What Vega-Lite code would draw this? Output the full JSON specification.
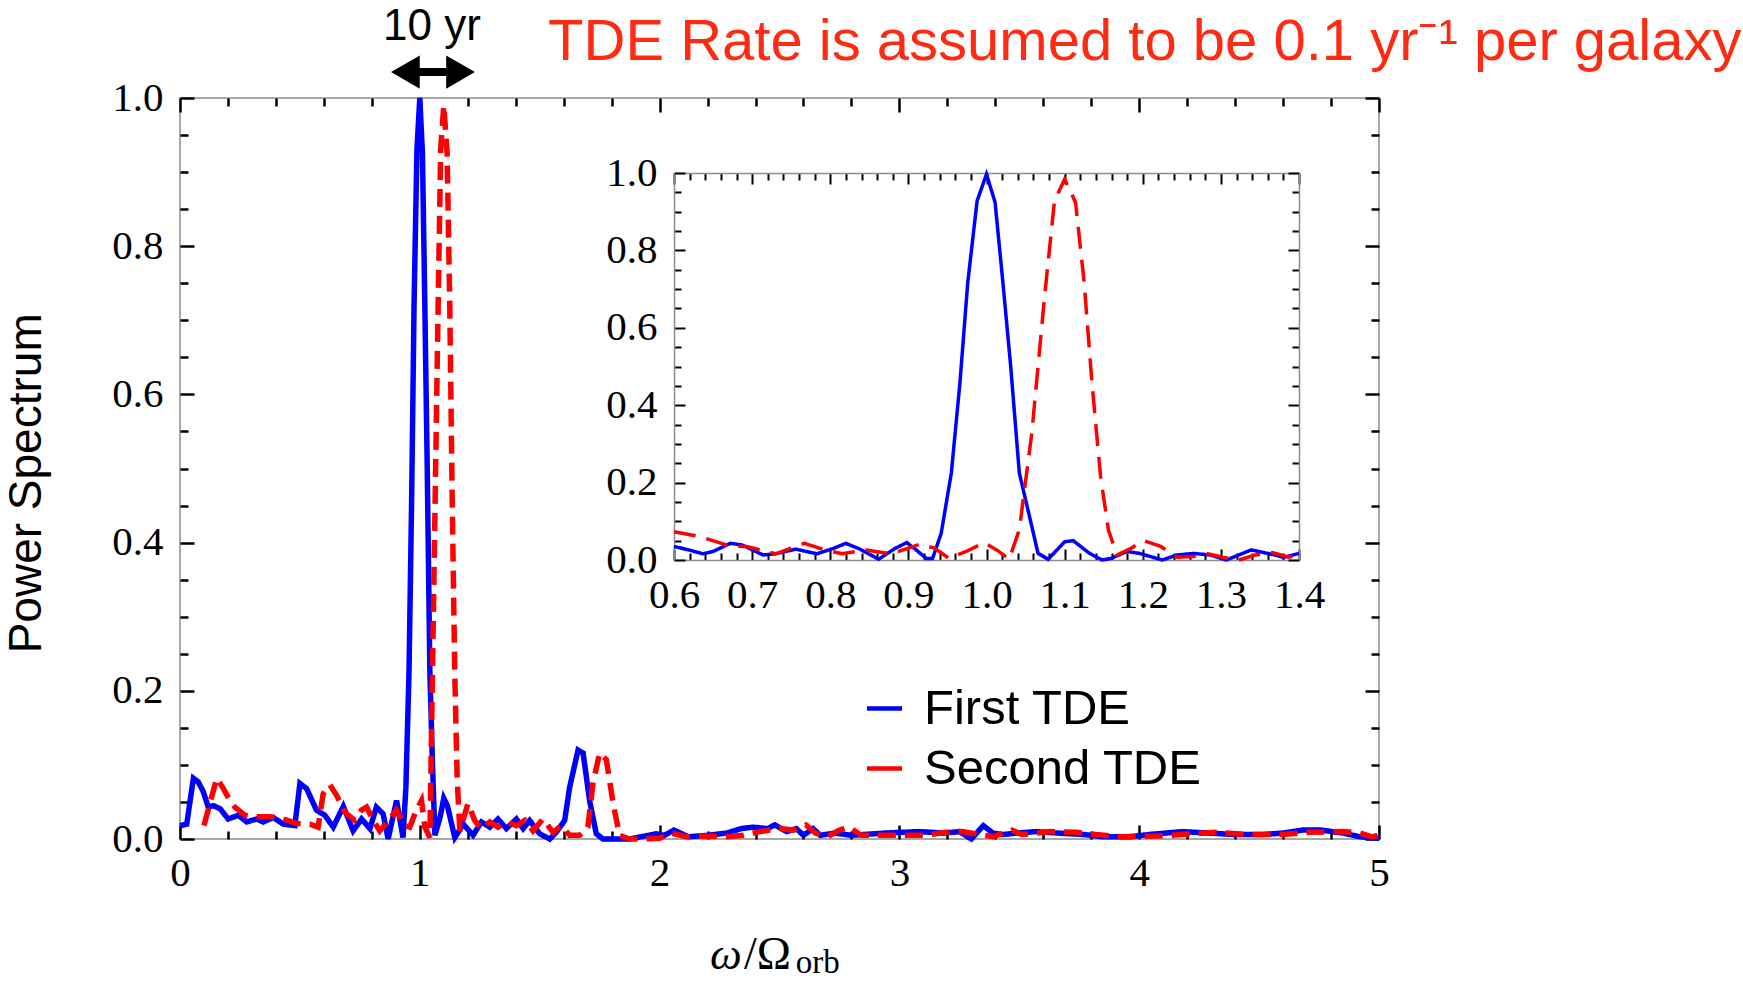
{
  "$schema": "https://vega.github.io/schema/vega-lite/v6.json",
  "autosize": "none",
  "padding": {"left": 180, "top": 98, "right": 364, "bottom": 142},
  "width": 1199,
  "height": 741,
  "background": "white",
  "config": {
    "view": {"stroke": "#8c8c8c", "strokeWidth": 1.5},
    "axis": {"grid": false, "domain": false, "tickColor": "black", "tickWidth": 2.5, "labelFont": "Liberation Serif", "labelColor": "black", "labelFontSize": 41, "labelFlush": false, "labelOverlap": false, "title": null}
  },
  "datasets": {
    "main": [
      {"series": "First TDE", "omega": 0.0, "power": 0.018},
      {"series": "First TDE", "omega": 0.028, "power": 0.02},
      {"series": "First TDE", "omega": 0.056, "power": 0.082},
      {"series": "First TDE", "omega": 0.076, "power": 0.077},
      {"series": "First TDE", "omega": 0.097, "power": 0.064},
      {"series": "First TDE", "omega": 0.118, "power": 0.043},
      {"series": "First TDE", "omega": 0.139, "power": 0.045},
      {"series": "First TDE", "omega": 0.167, "power": 0.041},
      {"series": "First TDE", "omega": 0.201, "power": 0.027},
      {"series": "First TDE", "omega": 0.243, "power": 0.032},
      {"series": "First TDE", "omega": 0.278, "power": 0.023},
      {"series": "First TDE", "omega": 0.319, "power": 0.027},
      {"series": "First TDE", "omega": 0.347, "power": 0.023},
      {"series": "First TDE", "omega": 0.389, "power": 0.029},
      {"series": "First TDE", "omega": 0.431, "power": 0.02},
      {"series": "First TDE", "omega": 0.479, "power": 0.018},
      {"series": "First TDE", "omega": 0.5, "power": 0.075},
      {"series": "First TDE", "omega": 0.528, "power": 0.068},
      {"series": "First TDE", "omega": 0.569, "power": 0.039},
      {"series": "First TDE", "omega": 0.604, "power": 0.032},
      {"series": "First TDE", "omega": 0.639, "power": 0.016},
      {"series": "First TDE", "omega": 0.681, "power": 0.044},
      {"series": "First TDE", "omega": 0.722, "power": 0.011},
      {"series": "First TDE", "omega": 0.757, "power": 0.027},
      {"series": "First TDE", "omega": 0.792, "power": 0.014},
      {"series": "First TDE", "omega": 0.819, "power": 0.043},
      {"series": "First TDE", "omega": 0.847, "power": 0.034},
      {"series": "First TDE", "omega": 0.868, "power": 0.0},
      {"series": "First TDE", "omega": 0.903, "power": 0.052},
      {"series": "First TDE", "omega": 0.93, "power": 0.002},
      {"series": "First TDE", "omega": 0.942, "power": 0.07},
      {"series": "First TDE", "omega": 0.955, "power": 0.225},
      {"series": "First TDE", "omega": 0.966, "power": 0.46},
      {"series": "First TDE", "omega": 0.976, "power": 0.72},
      {"series": "First TDE", "omega": 0.988, "power": 0.93},
      {"series": "First TDE", "omega": 1.0, "power": 1.0},
      {"series": "First TDE", "omega": 1.011, "power": 0.925},
      {"series": "First TDE", "omega": 1.021, "power": 0.72},
      {"series": "First TDE", "omega": 1.031, "power": 0.5},
      {"series": "First TDE", "omega": 1.042, "power": 0.225},
      {"series": "First TDE", "omega": 1.053, "power": 0.1},
      {"series": "First TDE", "omega": 1.063, "power": 0.005},
      {"series": "First TDE", "omega": 1.085, "power": 0.03},
      {"series": "First TDE", "omega": 1.1, "power": 0.055},
      {"series": "First TDE", "omega": 1.115, "power": 0.045},
      {"series": "First TDE", "omega": 1.146, "power": 0.002},
      {"series": "First TDE", "omega": 1.181, "power": 0.02},
      {"series": "First TDE", "omega": 1.222, "power": 0.005},
      {"series": "First TDE", "omega": 1.257, "power": 0.023},
      {"series": "First TDE", "omega": 1.292, "power": 0.016},
      {"series": "First TDE", "omega": 1.326, "power": 0.027},
      {"series": "First TDE", "omega": 1.361, "power": 0.014},
      {"series": "First TDE", "omega": 1.403, "power": 0.027},
      {"series": "First TDE", "omega": 1.431, "power": 0.014},
      {"series": "First TDE", "omega": 1.458, "power": 0.025},
      {"series": "First TDE", "omega": 1.5, "power": 0.007},
      {"series": "First TDE", "omega": 1.542, "power": 0.0},
      {"series": "First TDE", "omega": 1.569, "power": 0.009},
      {"series": "First TDE", "omega": 1.604, "power": 0.025},
      {"series": "First TDE", "omega": 1.625, "power": 0.07},
      {"series": "First TDE", "omega": 1.66, "power": 0.12},
      {"series": "First TDE", "omega": 1.681, "power": 0.116},
      {"series": "First TDE", "omega": 1.708, "power": 0.052},
      {"series": "First TDE", "omega": 1.736, "power": 0.007},
      {"series": "First TDE", "omega": 1.764, "power": 0.0},
      {"series": "First TDE", "omega": 1.875, "power": 0.0},
      {"series": "First TDE", "omega": 1.986, "power": 0.007},
      {"series": "First TDE", "omega": 2.02, "power": 0.005},
      {"series": "First TDE", "omega": 2.06, "power": 0.012},
      {"series": "First TDE", "omega": 2.12, "power": 0.003},
      {"series": "First TDE", "omega": 2.2, "power": 0.005},
      {"series": "First TDE", "omega": 2.28, "power": 0.008},
      {"series": "First TDE", "omega": 2.34, "power": 0.014},
      {"series": "First TDE", "omega": 2.39, "power": 0.016},
      {"series": "First TDE", "omega": 2.45, "power": 0.014},
      {"series": "First TDE", "omega": 2.48, "power": 0.019},
      {"series": "First TDE", "omega": 2.53, "power": 0.01},
      {"series": "First TDE", "omega": 2.57, "power": 0.014},
      {"series": "First TDE", "omega": 2.6, "power": 0.005},
      {"series": "First TDE", "omega": 2.64, "power": 0.014},
      {"series": "First TDE", "omega": 2.67, "power": 0.005},
      {"series": "First TDE", "omega": 2.73, "power": 0.008},
      {"series": "First TDE", "omega": 2.8, "power": 0.005},
      {"series": "First TDE", "omega": 2.94, "power": 0.008},
      {"series": "First TDE", "omega": 3.08, "power": 0.01},
      {"series": "First TDE", "omega": 3.19, "power": 0.008},
      {"series": "First TDE", "omega": 3.25, "power": 0.01},
      {"series": "First TDE", "omega": 3.3, "power": 0.0},
      {"series": "First TDE", "omega": 3.35, "power": 0.018},
      {"series": "First TDE", "omega": 3.39, "power": 0.008},
      {"series": "First TDE", "omega": 3.43, "power": 0.006},
      {"series": "First TDE", "omega": 3.49, "power": 0.008},
      {"series": "First TDE", "omega": 3.57, "power": 0.01},
      {"series": "First TDE", "omega": 3.66, "power": 0.008},
      {"series": "First TDE", "omega": 3.77, "power": 0.006},
      {"series": "First TDE", "omega": 3.85, "power": 0.003},
      {"series": "First TDE", "omega": 3.96, "power": 0.003},
      {"series": "First TDE", "omega": 4.04, "power": 0.006},
      {"series": "First TDE", "omega": 4.18, "power": 0.01},
      {"series": "First TDE", "omega": 4.29, "power": 0.008},
      {"series": "First TDE", "omega": 4.4, "power": 0.006},
      {"series": "First TDE", "omega": 4.51, "power": 0.006},
      {"series": "First TDE", "omega": 4.6, "power": 0.008},
      {"series": "First TDE", "omega": 4.68, "power": 0.012},
      {"series": "First TDE", "omega": 4.76, "power": 0.012},
      {"series": "First TDE", "omega": 4.85, "power": 0.008},
      {"series": "First TDE", "omega": 4.92, "power": 0.003},
      {"series": "First TDE", "omega": 5.0, "power": 0.001},
      {"series": "Second TDE", "omega": 0.1, "power": 0.018},
      {"series": "Second TDE", "omega": 0.153, "power": 0.082},
      {"series": "Second TDE", "omega": 0.181, "power": 0.068},
      {"series": "Second TDE", "omega": 0.208, "power": 0.052},
      {"series": "Second TDE", "omega": 0.229, "power": 0.043},
      {"series": "Second TDE", "omega": 0.271, "power": 0.032},
      {"series": "Second TDE", "omega": 0.319, "power": 0.03},
      {"series": "Second TDE", "omega": 0.375, "power": 0.03},
      {"series": "Second TDE", "omega": 0.431, "power": 0.027},
      {"series": "Second TDE", "omega": 0.486, "power": 0.021},
      {"series": "Second TDE", "omega": 0.542, "power": 0.02},
      {"series": "Second TDE", "omega": 0.576, "power": 0.016},
      {"series": "Second TDE", "omega": 0.597, "power": 0.061},
      {"series": "Second TDE", "omega": 0.625, "power": 0.073},
      {"series": "Second TDE", "omega": 0.653, "power": 0.059},
      {"series": "Second TDE", "omega": 0.688, "power": 0.036},
      {"series": "Second TDE", "omega": 0.729, "power": 0.025},
      {"series": "Second TDE", "omega": 0.757, "power": 0.039},
      {"series": "Second TDE", "omega": 0.778, "power": 0.043},
      {"series": "Second TDE", "omega": 0.806, "power": 0.025},
      {"series": "Second TDE", "omega": 0.833, "power": 0.011},
      {"series": "Second TDE", "omega": 0.875, "power": 0.027},
      {"series": "Second TDE", "omega": 0.903, "power": 0.039},
      {"series": "Second TDE", "omega": 0.938, "power": 0.018},
      {"series": "Second TDE", "omega": 0.958, "power": 0.016},
      {"series": "Second TDE", "omega": 0.986, "power": 0.039},
      {"series": "Second TDE", "omega": 1.007, "power": 0.052},
      {"series": "Second TDE", "omega": 1.021, "power": 0.016},
      {"series": "Second TDE", "omega": 1.042, "power": 0.002},
      {"series": "Second TDE", "omega": 1.058, "power": 0.33},
      {"series": "Second TDE", "omega": 1.074, "power": 0.67},
      {"series": "Second TDE", "omega": 1.087, "power": 0.93},
      {"series": "Second TDE", "omega": 1.1, "power": 0.99},
      {"series": "Second TDE", "omega": 1.114, "power": 0.925},
      {"series": "Second TDE", "omega": 1.125, "power": 0.72},
      {"series": "Second TDE", "omega": 1.135, "power": 0.46},
      {"series": "Second TDE", "omega": 1.146, "power": 0.22},
      {"series": "Second TDE", "omega": 1.156, "power": 0.08},
      {"series": "Second TDE", "omega": 1.167, "power": 0.011},
      {"series": "Second TDE", "omega": 1.201, "power": 0.048},
      {"series": "Second TDE", "omega": 1.229, "power": 0.025},
      {"series": "Second TDE", "omega": 1.257, "power": 0.014},
      {"series": "Second TDE", "omega": 1.292, "power": 0.023},
      {"series": "Second TDE", "omega": 1.326, "power": 0.016},
      {"series": "Second TDE", "omega": 1.361, "power": 0.023},
      {"series": "Second TDE", "omega": 1.403, "power": 0.018},
      {"series": "Second TDE", "omega": 1.438, "power": 0.025},
      {"series": "Second TDE", "omega": 1.472, "power": 0.011},
      {"series": "Second TDE", "omega": 1.514, "power": 0.027},
      {"series": "Second TDE", "omega": 1.556, "power": 0.009},
      {"series": "Second TDE", "omega": 1.59, "power": 0.018},
      {"series": "Second TDE", "omega": 1.625, "power": 0.005},
      {"series": "Second TDE", "omega": 1.667, "power": 0.005},
      {"series": "Second TDE", "omega": 1.701, "power": 0.016},
      {"series": "Second TDE", "omega": 1.722, "power": 0.075},
      {"series": "Second TDE", "omega": 1.75, "power": 0.116},
      {"series": "Second TDE", "omega": 1.778, "power": 0.107},
      {"series": "Second TDE", "omega": 1.806, "power": 0.048},
      {"series": "Second TDE", "omega": 1.833, "power": 0.005},
      {"series": "Second TDE", "omega": 1.875, "power": 0.0},
      {"series": "Second TDE", "omega": 1.931, "power": 0.0},
      {"series": "Second TDE", "omega": 2.0, "power": 0.001},
      {"series": "Second TDE", "omega": 2.05, "power": 0.008},
      {"series": "Second TDE", "omega": 2.11, "power": 0.003},
      {"series": "Second TDE", "omega": 2.2, "power": 0.004},
      {"series": "Second TDE", "omega": 2.28, "power": 0.003},
      {"series": "Second TDE", "omega": 2.35, "power": 0.005},
      {"series": "Second TDE", "omega": 2.42, "power": 0.01},
      {"series": "Second TDE", "omega": 2.5, "power": 0.014},
      {"series": "Second TDE", "omega": 2.56, "power": 0.012},
      {"series": "Second TDE", "omega": 2.61, "power": 0.019},
      {"series": "Second TDE", "omega": 2.65, "power": 0.008},
      {"series": "Second TDE", "omega": 2.7, "power": 0.003},
      {"series": "Second TDE", "omega": 2.75, "power": 0.012},
      {"series": "Second TDE", "omega": 2.79, "power": 0.016},
      {"series": "Second TDE", "omega": 2.84, "power": 0.005},
      {"series": "Second TDE", "omega": 2.97, "power": 0.005},
      {"series": "Second TDE", "omega": 3.1, "power": 0.005},
      {"series": "Second TDE", "omega": 3.22, "power": 0.01},
      {"series": "Second TDE", "omega": 3.26, "power": 0.01},
      {"series": "Second TDE", "omega": 3.39, "power": 0.003},
      {"series": "Second TDE", "omega": 3.47, "power": 0.012},
      {"series": "Second TDE", "omega": 3.51, "power": 0.006},
      {"series": "Second TDE", "omega": 3.63, "power": 0.01},
      {"series": "Second TDE", "omega": 3.74, "power": 0.009},
      {"series": "Second TDE", "omega": 3.82, "power": 0.006},
      {"series": "Second TDE", "omega": 3.93, "power": 0.003},
      {"series": "Second TDE", "omega": 4.07, "power": 0.004},
      {"series": "Second TDE", "omega": 4.18, "power": 0.006},
      {"series": "Second TDE", "omega": 4.32, "power": 0.009},
      {"series": "Second TDE", "omega": 4.46, "power": 0.006},
      {"series": "Second TDE", "omega": 4.6, "power": 0.006},
      {"series": "Second TDE", "omega": 4.71, "power": 0.009},
      {"series": "Second TDE", "omega": 4.85, "power": 0.01},
      {"series": "Second TDE", "omega": 4.92, "power": 0.008},
      {"series": "Second TDE", "omega": 4.97, "power": 0.003},
      {"series": "Second TDE", "omega": 5.0, "power": 0.005}
    ],
    "inset": [
      {"series": "First TDE", "omega": 0.6, "power": 0.035},
      {"series": "First TDE", "omega": 0.619, "power": 0.026},
      {"series": "First TDE", "omega": 0.637, "power": 0.016},
      {"series": "First TDE", "omega": 0.65, "power": 0.022},
      {"series": "First TDE", "omega": 0.672, "power": 0.043},
      {"series": "First TDE", "omega": 0.687, "power": 0.039},
      {"series": "First TDE", "omega": 0.714, "power": 0.013},
      {"series": "First TDE", "omega": 0.73, "power": 0.016},
      {"series": "First TDE", "omega": 0.756, "power": 0.028},
      {"series": "First TDE", "omega": 0.783, "power": 0.016},
      {"series": "First TDE", "omega": 0.804, "power": 0.03},
      {"series": "First TDE", "omega": 0.82, "power": 0.043},
      {"series": "First TDE", "omega": 0.836, "power": 0.03},
      {"series": "First TDE", "omega": 0.862, "power": 0.002},
      {"series": "First TDE", "omega": 0.883, "power": 0.03},
      {"series": "First TDE", "omega": 0.898, "power": 0.045},
      {"series": "First TDE", "omega": 0.91, "power": 0.026},
      {"series": "First TDE", "omega": 0.923, "power": 0.004},
      {"series": "First TDE", "omega": 0.931, "power": 0.004},
      {"series": "First TDE", "omega": 0.942, "power": 0.069},
      {"series": "First TDE", "omega": 0.955, "power": 0.225},
      {"series": "First TDE", "omega": 0.966, "power": 0.458},
      {"series": "First TDE", "omega": 0.976, "power": 0.717},
      {"series": "First TDE", "omega": 0.988, "power": 0.928},
      {"series": "First TDE", "omega": 1.0, "power": 0.997},
      {"series": "First TDE", "omega": 1.011, "power": 0.924},
      {"series": "First TDE", "omega": 1.021, "power": 0.717},
      {"series": "First TDE", "omega": 1.031, "power": 0.5},
      {"series": "First TDE", "omega": 1.042, "power": 0.225},
      {"series": "First TDE", "omega": 1.056, "power": 0.104},
      {"series": "First TDE", "omega": 1.066, "power": 0.017},
      {"series": "First TDE", "omega": 1.079, "power": 0.002},
      {"series": "First TDE", "omega": 1.1, "power": 0.047},
      {"series": "First TDE", "omega": 1.111, "power": 0.05},
      {"series": "First TDE", "omega": 1.132, "power": 0.017},
      {"series": "First TDE", "omega": 1.148, "power": 0.0},
      {"series": "First TDE", "omega": 1.159, "power": 0.004},
      {"series": "First TDE", "omega": 1.18, "power": 0.022},
      {"series": "First TDE", "omega": 1.196, "power": 0.017},
      {"series": "First TDE", "omega": 1.225, "power": 0.0},
      {"series": "First TDE", "omega": 1.244, "power": 0.013},
      {"series": "First TDE", "omega": 1.265, "power": 0.017},
      {"series": "First TDE", "omega": 1.286, "power": 0.013},
      {"series": "First TDE", "omega": 1.307, "power": 0.0},
      {"series": "First TDE", "omega": 1.339, "power": 0.026},
      {"series": "First TDE", "omega": 1.36, "power": 0.017},
      {"series": "First TDE", "omega": 1.381, "power": 0.007},
      {"series": "First TDE", "omega": 1.4, "power": 0.017},
      {"series": "Second TDE", "omega": 0.6, "power": 0.073},
      {"series": "Second TDE", "omega": 0.634, "power": 0.06},
      {"series": "Second TDE", "omega": 0.672, "power": 0.036},
      {"series": "Second TDE", "omega": 0.693, "power": 0.035},
      {"series": "Second TDE", "omega": 0.73, "power": 0.016},
      {"series": "Second TDE", "omega": 0.767, "power": 0.043},
      {"series": "Second TDE", "omega": 0.793, "power": 0.026},
      {"series": "Second TDE", "omega": 0.815, "power": 0.016},
      {"series": "Second TDE", "omega": 0.846, "power": 0.026},
      {"series": "Second TDE", "omega": 0.878, "power": 0.016},
      {"series": "Second TDE", "omega": 0.915, "power": 0.041},
      {"series": "Second TDE", "omega": 0.934, "power": 0.03},
      {"series": "Second TDE", "omega": 0.952, "power": 0.004},
      {"series": "Second TDE", "omega": 0.974, "power": 0.022},
      {"series": "Second TDE", "omega": 0.997, "power": 0.045},
      {"series": "Second TDE", "omega": 1.013, "power": 0.026},
      {"series": "Second TDE", "omega": 1.029, "power": 0.002},
      {"series": "Second TDE", "omega": 1.042, "power": 0.078},
      {"series": "Second TDE", "omega": 1.058, "power": 0.328},
      {"series": "Second TDE", "omega": 1.074, "power": 0.674},
      {"series": "Second TDE", "omega": 1.087, "power": 0.928},
      {"series": "Second TDE", "omega": 1.1, "power": 0.984},
      {"series": "Second TDE", "omega": 1.114, "power": 0.924},
      {"series": "Second TDE", "omega": 1.125, "power": 0.717},
      {"series": "Second TDE", "omega": 1.135, "power": 0.458},
      {"series": "Second TDE", "omega": 1.146, "power": 0.216},
      {"series": "Second TDE", "omega": 1.156, "power": 0.078},
      {"series": "Second TDE", "omega": 1.167, "power": 0.013},
      {"series": "Second TDE", "omega": 1.185, "power": 0.03},
      {"series": "Second TDE", "omega": 1.201, "power": 0.05},
      {"series": "Second TDE", "omega": 1.223, "power": 0.035},
      {"series": "Second TDE", "omega": 1.244, "power": 0.007},
      {"series": "Second TDE", "omega": 1.265, "power": 0.009},
      {"series": "Second TDE", "omega": 1.281, "power": 0.017},
      {"series": "Second TDE", "omega": 1.302, "power": 0.007},
      {"series": "Second TDE", "omega": 1.323, "power": 0.0},
      {"series": "Second TDE", "omega": 1.344, "power": 0.013},
      {"series": "Second TDE", "omega": 1.366, "power": 0.019},
      {"series": "Second TDE", "omega": 1.387, "power": 0.007},
      {"series": "Second TDE", "omega": 1.4, "power": 0.013}
    ]
  },
  "layer": [
    {
      "layer": [
        {
          "data": {"name": "main"},
          "mark": {"type": "line", "strokeWidth": 5.5},
          "encoding": {
            "x": {"field": "omega", "type": "quantitative", "scale": {"domain": [0, 5], "nice": false, "zero": false},
              "axis": {"orient": "bottom", "values": [0,0.2,0.4,0.6,0.8,1,1.2,1.4,1.6,1.8,2,2.2,2.4,2.6,2.8,3,3.2,3.4,3.6,3.8,4,4.2,4.4,4.6,4.8,5],
                "labelExpr": "abs(datum.value-round(datum.value))<1e-6 ? format(datum.value,'d') : ''",
                "tickSize": {"condition": {"test": "abs(datum.value-round(datum.value))<1e-6", "value": -14}, "value": -8},
                "labelPadding": 28, "labelBaseline": "top"}},
            "y": {"field": "power", "type": "quantitative", "scale": {"domain": [0, 1], "nice": false},
              "axis": {"orient": "left", "values": [0,0.05,0.1,0.15,0.2,0.25,0.3,0.35,0.4,0.45,0.5,0.55,0.6,0.65,0.7,0.75,0.8,0.85,0.9,0.95,1],
                "format": ".1f",
                "labelExpr": "abs(datum.value*5-round(datum.value*5))<1e-6 ? datum.label : ''",
                "tickSize": {"condition": {"test": "abs(datum.value*5-round(datum.value*5))<1e-6", "value": -14}, "value": -8},
                "labelPadding": 31}},
            "color": {"field": "series", "type": "nominal", "scale": {"domain": ["First TDE", "Second TDE"], "range": ["#0000ff", "#ff0000"]},
              "legend": {"orient": "none", "legendX": 680, "legendY": 586, "title": null, "symbolType": "stroke", "symbolStrokeWidth": 4.5, "symbolSize": 1225,
                "labelFont": "Liberation Sans", "labelFontSize": 49, "labelColor": "black", "labelOffset": 15, "rowPadding": 10, "padding": 0, "labelLimit": 600,
                "encode": {"symbols": {"update": {"stroke": {"signal": "datum.value === 'First TDE' ? '#1266cc' : '#ff2a0a'"}, "strokeDash": {"value": [1, 0]}}}}}},
            "strokeDash": {"field": "series", "type": "nominal", "scale": {"domain": ["First TDE", "Second TDE"], "range": [[1, 0], [18, 9]]}, "legend": null}
          }
        },
        {
          "data": {"name": "main"},
          "mark": {"type": "point", "opacity": 0},
          "encoding": {
            "x": {"field": "omega", "type": "quantitative",
              "axis": {"orient": "top", "labels": false, "values": [0,0.2,0.4,0.6,0.8,1,1.2,1.4,1.6,1.8,2,2.2,2.4,2.6,2.8,3,3.2,3.4,3.6,3.8,4,4.2,4.4,4.6,4.8,5],
                "tickSize": {"condition": {"test": "abs(datum.value-round(datum.value))<1e-6", "value": -14}, "value": -8}}},
            "y": {"field": "power", "type": "quantitative",
              "axis": {"orient": "right", "labels": false, "values": [0,0.05,0.1,0.15,0.2,0.25,0.3,0.35,0.4,0.45,0.5,0.55,0.6,0.65,0.7,0.75,0.8,0.85,0.9,0.95,1],
                "tickSize": {"condition": {"test": "abs(datum.value*5-round(datum.value*5))<1e-6", "value": -14}, "value": -8}}}
          }
        },
        {
          "data": {"values": [{}]},
          "mark": {"type": "rule", "strokeWidth": 8, "color": "black"},
          "encoding": {"x": {"datum": 0.93, "type": "quantitative", "axis": null}, "x2": {"datum": 1.18}, "y": {"datum": 1.035, "type": "quantitative", "axis": null}}
        },
        {
          "data": {"values": [{}]},
          "mark": {"type": "point", "shape": "triangle-left", "filled": true, "color": "black", "opacity": 1, "size": 1100},
          "encoding": {"x": {"datum": 0.94, "type": "quantitative", "axis": null}, "y": {"datum": 1.035, "type": "quantitative", "axis": null}}
        },
        {
          "data": {"values": [{}]},
          "mark": {"type": "point", "shape": "triangle-right", "filled": true, "color": "black", "opacity": 1, "size": 1100},
          "encoding": {"x": {"datum": 1.17, "type": "quantitative", "axis": null}, "y": {"datum": 1.035, "type": "quantitative", "axis": null}}
        },
        {
          "data": {"values": [{}]},
          "mark": {"type": "text", "text": "10 yr", "font": "Liberation Sans", "fontSize": 44, "color": "black", "align": "center", "baseline": "middle"},
          "encoding": {"x": {"datum": 1.051, "type": "quantitative", "axis": null}, "y": {"datum": 1.096, "type": "quantitative", "axis": null}}
        },
        {
          "data": {"values": [{}]},
          "mark": {"type": "text", "text": "TDE Rate is assumed to be 0.1 yr⁻¹ per galaxy", "font": "Liberation Sans", "fontSize": 58, "color": "#ff2a12", "align": "left", "baseline": "middle"},
          "encoding": {"x": {"datum": 1.535, "type": "quantitative", "axis": null}, "y": {"datum": 1.074, "type": "quantitative", "axis": null}}
        },
        {
          "data": {"values": [{}]},
          "mark": {"type": "text", "text": "Power Spectrum", "font": "Liberation Sans", "fontSize": 46, "color": "black", "align": "center", "baseline": "middle", "angle": 270},
          "encoding": {"x": {"datum": -0.64, "type": "quantitative", "axis": null}, "y": {"datum": 0.48, "type": "quantitative", "axis": null}}
        },
        {
          "data": {"values": [{}]},
          "mark": {"type": "text", "text": "ω", "font": "Liberation Serif", "fontStyle": "italic", "fontSize": 45, "color": "black", "align": "left", "baseline": "middle"},
          "encoding": {"x": {"datum": 2.21, "type": "quantitative", "axis": null}, "y": {"datum": -0.157, "type": "quantitative", "axis": null}}
        },
        {
          "data": {"values": [{}]},
          "mark": {"type": "text", "text": "/Ω", "font": "Liberation Serif", "fontSize": 46, "color": "black", "align": "left", "baseline": "middle"},
          "encoding": {"x": {"datum": 2.352, "type": "quantitative", "axis": null}, "y": {"datum": -0.157, "type": "quantitative", "axis": null}}
        },
        {
          "data": {"values": [{}]},
          "mark": {"type": "text", "text": "orb", "font": "Liberation Serif", "fontSize": 33, "color": "black", "align": "left", "baseline": "middle"},
          "encoding": {"x": {"datum": 2.568, "type": "quantitative", "axis": null}, "y": {"datum": -0.168, "type": "quantitative", "axis": null}}
        }
      ],
      "resolve": {"axis": {"x": "independent", "y": "independent"}}
    },
    {
      "layer": [
        {
          "data": {"name": "inset"},
          "mark": {"type": "line", "strokeWidth": 3.5},
          "encoding": {
            "x": {"field": "omega", "type": "quantitative", "scale": {"domain": [0.6, 1.4], "range": [494, 1119], "nice": false, "zero": false},
              "axis": {"orient": "bottom", "offset": -279, "domain": true, "domainColor": "#8c8c8c", "domainWidth": 1.5,
                "values": [0.6,0.62,0.64,0.66,0.68,0.7,0.72,0.74,0.76,0.78,0.8,0.82,0.84,0.86,0.88,0.9,0.92,0.94,0.96,0.98,1,1.02,1.04,1.06,1.08,1.1,1.12,1.14,1.16,1.18,1.2,1.22,1.24,1.26,1.28,1.3,1.32,1.34,1.36,1.38,1.4],
                "format": ".1f",
                "labelExpr": "abs(datum.value*10-round(datum.value*10))<1e-6 ? datum.label : ''",
                "tickSize": {"condition": {"test": "abs(datum.value*10-round(datum.value*10))<1e-6", "value": -11}, "value": -7},
                "tickWidth": 2, "labelPadding": 26, "labelBaseline": "top"}},
            "y": {"field": "power", "type": "quantitative", "scale": {"domain": [0, 1], "range": [462, 75], "nice": false, "zero": false},
              "axis": {"orient": "left", "offset": -494, "domain": true, "domainColor": "#8c8c8c", "domainWidth": 1.5,
                "values": [0,0.05,0.1,0.15,0.2,0.25,0.3,0.35,0.4,0.45,0.5,0.55,0.6,0.65,0.7,0.75,0.8,0.85,0.9,0.95,1],
                "format": ".1f",
                "labelExpr": "abs(datum.value*5-round(datum.value*5))<1e-6 ? datum.label : ''",
                "tickSize": {"condition": {"test": "abs(datum.value*5-round(datum.value*5))<1e-6", "value": -11}, "value": -7},
                "tickWidth": 2, "labelPadding": 28}},
            "color": {"field": "series", "type": "nominal", "legend": null},
            "strokeDash": {"field": "series", "type": "nominal", "scale": {"domain": ["First TDE", "Second TDE"], "range": [[1, 0], [22, 11]]}, "legend": null}
          }
        },
        {
          "data": {"name": "inset"},
          "mark": {"type": "point", "opacity": 0},
          "encoding": {
            "x": {"field": "omega", "type": "quantitative",
              "axis": {"orient": "top", "offset": -75, "labels": false, "domain": true, "domainColor": "#8c8c8c", "domainWidth": 1.5,
                "values": [0.6,0.62,0.64,0.66,0.68,0.7,0.72,0.74,0.76,0.78,0.8,0.82,0.84,0.86,0.88,0.9,0.92,0.94,0.96,0.98,1,1.02,1.04,1.06,1.08,1.1,1.12,1.14,1.16,1.18,1.2,1.22,1.24,1.26,1.28,1.3,1.32,1.34,1.36,1.38,1.4],
                "tickSize": {"condition": {"test": "abs(datum.value*10-round(datum.value*10))<1e-6", "value": -11}, "value": -7},
                "tickWidth": 2}},
            "y": {"field": "power", "type": "quantitative",
              "axis": {"orient": "right", "offset": -80, "labels": false, "domain": true, "domainColor": "#8c8c8c", "domainWidth": 1.5,
                "values": [0,0.05,0.1,0.15,0.2,0.25,0.3,0.35,0.4,0.45,0.5,0.55,0.6,0.65,0.7,0.75,0.8,0.85,0.9,0.95,1],
                "tickSize": {"condition": {"test": "abs(datum.value*5-round(datum.value*5))<1e-6", "value": -11}, "value": -7},
                "tickWidth": 2}}
          }
        }
      ],
      "resolve": {"axis": {"x": "independent", "y": "independent"}}
    }
  ],
  "resolve": {"scale": {"x": "independent", "y": "independent", "strokeDash": "independent"}}
}
